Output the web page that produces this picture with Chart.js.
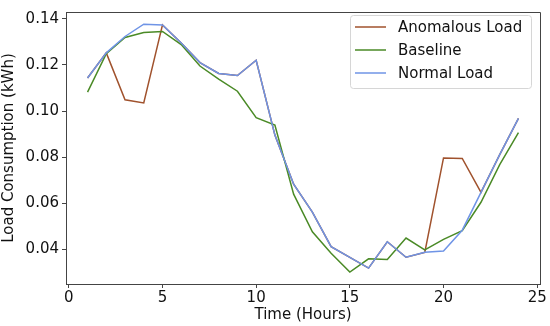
<!DOCTYPE html>
<html>
<head>
<meta charset="utf-8">
<script src="https://cdn.jsdelivr.net/npm/chart.js@4.4.0/dist/chart.umd.min.js"></script>
<style>
  html, body { margin: 0; padding: 0; background: #fff; }
  #wrap { width: 550px; height: 326px; }
</style>
</head>
<body>
<div id="wrap"><canvas id="c" width="550" height="326"></canvas></div>
<script>
// hours 1..24
const hours = [1,2,3,4,5,6,7,8,9,10,11,12,13,14,15,16,17,18,19,20,21,22,23,24];
const normalLoad = [0.1143,0.1252,0.1323,0.1376,0.1373,0.1295,0.1210,0.1163,0.1154,0.1220,0.0896,0.0683,
                    0.0562,0.0413,0.0366,0.0320,0.0434,0.0367,0.0388,0.0394,0.0484,0.0648,0.0811,0.0968];
const baseline   = [0.1082,0.1248,0.1319,0.1340,0.1345,0.1288,0.1195,0.1138,0.1086,0.0971,0.0939,0.0640,
                    0.0477,0.0384,0.0303,0.0360,0.0357,0.0450,0.0399,0.0444,0.0482,0.0605,0.0768,0.0907];
const anomalous  = [0.1143,0.1252,0.1049,0.1035,0.1373,0.1295,0.1210,0.1163,0.1154,0.1220,0.0896,0.0683,
                    0.0562,0.0413,0.0366,0.0320,0.0434,0.0367,0.0388,0.0797,0.0795,0.0648,0.0811,0.0968];
const xTicks = [0,5,10,15,20,25];
const yTicks = [0.04,0.06,0.08,0.10,0.12,0.14];
const seriesNames = ["Anomalous Load", "Baseline", "Normal Load"];
const seriesColors = ["#a0522d", "#4a8a26", "#6f94e6"];

const FONT = "'DejaVu Sans', sans-serif";

function pts(vals) {
    return hours.map((h, i) => ({ x: h, y: vals[i] }));
}

// legend + top/right frame, matplotlib style
const mplBits = {
    id: "mplBits",
    afterDraw(chart) {
        const ctx = chart.ctx;
        const a = chart.chartArea;
        ctx.save();
        ctx.strokeStyle = "#444";
        ctx.lineWidth = 1;
        ctx.beginPath();
        ctx.moveTo(a.left, a.top + 0.5);
        ctx.lineTo(a.right + 0.5, a.top + 0.5);
        ctx.lineTo(a.right + 0.5, a.bottom);
        ctx.stroke();

        // legend box
        const bx = 350, by = 15, bw = 181, bh = 73;
        ctx.fillStyle = "rgba(255,255,255,0.8)";
        ctx.strokeStyle = "#d6d6d6";
        ctx.beginPath();
        ctx.roundRect(bx + 0.5, by + 0.5, bw, bh, 3);
        ctx.fill();
        ctx.stroke();

        ctx.font = "15px " + FONT;
        ctx.textBaseline = "middle";
        ctx.fillStyle = "#111";
        seriesNames.forEach((name, i) => {
            const yy = 27 + i * 23;
            ctx.strokeStyle = seriesColors[i];
            ctx.lineWidth = 1.5;
            ctx.beginPath();
            ctx.moveTo(355, yy);
            ctx.lineTo(386, yy);
            ctx.stroke();
            ctx.fillText(name, 398, yy + 1);
        });
        ctx.restore();
    }
};

new Chart(document.getElementById("c"), {
    type: "line",
    data: {
        datasets: [
            { label: seriesNames[0], data: pts(anomalous), borderColor: seriesColors[0], order: 3 },
            { label: seriesNames[1], data: pts(baseline), borderColor: seriesColors[1], order: 2 },
            { label: seriesNames[2], data: pts(normalLoad), borderColor: seriesColors[2], order: 1 }
        ]
    },
    options: {
        responsive: false,
        animation: false,
        events: [],
        layout: { padding: { left: 0, right: 10, top: 7, bottom: 0 } },
        elements: {
            line: { borderWidth: 1.5, tension: 0, fill: false },
            point: { radius: 0 }
        },
        plugins: { legend: { display: false }, tooltip: { enabled: false } },
        scales: {
            x: {
                type: "linear",
                min: -0.15,
                max: 25.15,
                afterBuildTicks: s => { s.ticks = xTicks.map(v => ({ value: v })); },
                afterFit: s => { s.height = 42; },
                grid: { drawOnChartArea: false, tickLength: 4, color: "#444" },
                border: { color: "#444" },
                ticks: { color: "#111", font: { family: FONT, size: 15 }, padding: 1, maxRotation: 0 },
                title: { display: true, text: "Time (Hours)", color: "#111", font: { family: FONT, size: 15 }, padding: { top: 0, bottom: 2 } }
            },
            y: {
                min: 0.0251,
                max: 0.1429,
                afterBuildTicks: s => { s.ticks = yTicks.map(v => ({ value: v })); },
                afterFit: s => { s.width = 66; },
                grid: { drawOnChartArea: false, tickLength: 4, color: "#444" },
                border: { color: "#444" },
                ticks: { color: "#111", font: { family: FONT, size: 15 }, padding: 3, callback: v => v.toFixed(2) },
                title: { display: true, text: "Load Consumption (kWh)", color: "#111", font: { family: FONT, size: 15 }, padding: { top: 0, bottom: 0 } }
            }
        }
    },
    plugins: [mplBits]
});
</script>
</body>
</html>
